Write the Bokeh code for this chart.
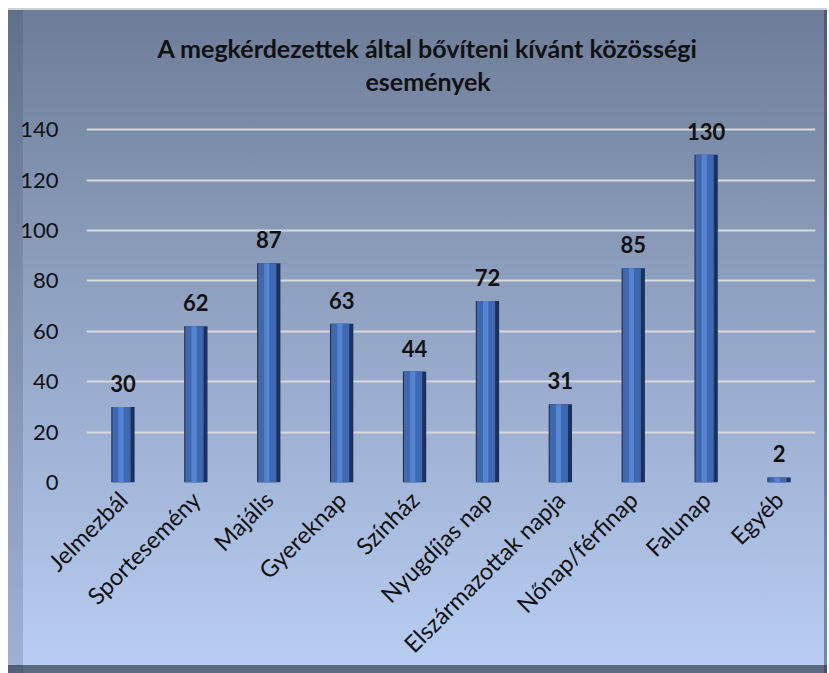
import math
from bokeh.plotting import figure
from bokeh.models import ColumnDataSource, LabelSet, Title
from bokeh.transform import dodge
from bokeh.core.properties import value
from bokeh.embed import file_html
from bokeh.resources import INLINE

# ---- data ----
categories = ["Jelmezbál", "Sportesemény", "Majális", "Gyereknap", "Színház",
              "Nyugdíjas nap", "Elszármazottak napja", "Nőnap/férfinap", "Falunap", "Egyéb"]
values = [30, 62, 87, 63, 44, 72, 31, 85, 130, 2]
y_ticks = [0, 20, 40, 60, 80, 100, 120, 140]
title_line1 = "A megkérdezettek által bővíteni kívánt közösségi"
title_line2 = "események"

FONT = "Lato"

p = figure(x_range=categories, y_range=(0, 148), width=819, height=665,
           output_backend="svg", toolbar_location=None, title=None,
           min_border_left=78, min_border_right=12, min_border_top=101,
           min_border_bottom=191)

p.background_fill_color = None
p.border_fill_color = None
p.outline_line_color = None
p.styles = {
    "margin": "8px 0 0 8px",
    "background": "linear-gradient(180deg, #6d7d98 0%, #8d9fbe 40%, #b9cef4 100%)",
    "box-shadow": "inset 0 2px 0 #cdd2d9, inset 15px 0 0 rgba(40,55,80,0.18), "
                  "inset -3px 0 0 rgba(40,50,70,0.45), inset 0 -8px 0 #5b6a80",
}

# titles (first added sits closest to the plot)
t2 = Title(text=title_line2, align="left", offset=279, standoff=28,
           text_font=FONT, text_font_size="25px", text_font_style="bold",
           text_color="#111111")
t1 = Title(text=title_line1, align="left", offset=71, standoff=-27,
           text_font=FONT, text_font_size="25px", text_font_style="bold",
           text_color="#111111")
p.add_layout(t2, "above")
p.add_layout(t1, "above")

src = ColumnDataSource(dict(cat=categories, val=values, lab=[str(v) for v in values]))

# bevelled bars
p.vbar(x="cat", top="val", width=0.32, source=src, fill_color="#1d3158", line_color=None)
p.vbar(x=dodge("cat", -0.02, range=p.x_range), top="val", width=0.25, source=src,
       fill_color="#3e68b2", line_color=None)
p.vbar(x=dodge("cat", -0.025, range=p.x_range), top="val", width=0.07, source=src,
       fill_color="#5585d0", line_color=None)

labels = LabelSet(x="cat", y="val", text="lab", source=src, text_align="center",
                  text_baseline="bottom", y_offset=15, text_font=value(FONT),
                  text_font_size="22px", text_font_style="bold", text_color="#111111")
p.add_layout(labels)

# axes
p.yaxis.ticker = y_ticks
p.yaxis.axis_line_color = None
p.yaxis.major_tick_line_color = None
p.yaxis.minor_tick_line_color = None
p.yaxis.major_label_standoff = 22
p.yaxis.major_label_text_font = FONT
p.yaxis.major_label_text_font_size = "22px"
p.yaxis.major_label_text_color = "#111111"

p.xaxis.axis_line_color = None
p.xaxis.major_tick_line_color = None
p.xaxis.major_label_orientation = math.pi / 4
p.xaxis.major_label_standoff = 7
p.xaxis.major_label_text_font = FONT
p.xaxis.major_label_text_font_size = "23.5px"
p.xaxis.major_label_text_color = "#111111"

p.xgrid.grid_line_color = None
p.ygrid.grid_line_color = "#d9d9d9"
p.ygrid.grid_line_width = 2

open("out.html", "w").write(file_html(p, INLINE))
